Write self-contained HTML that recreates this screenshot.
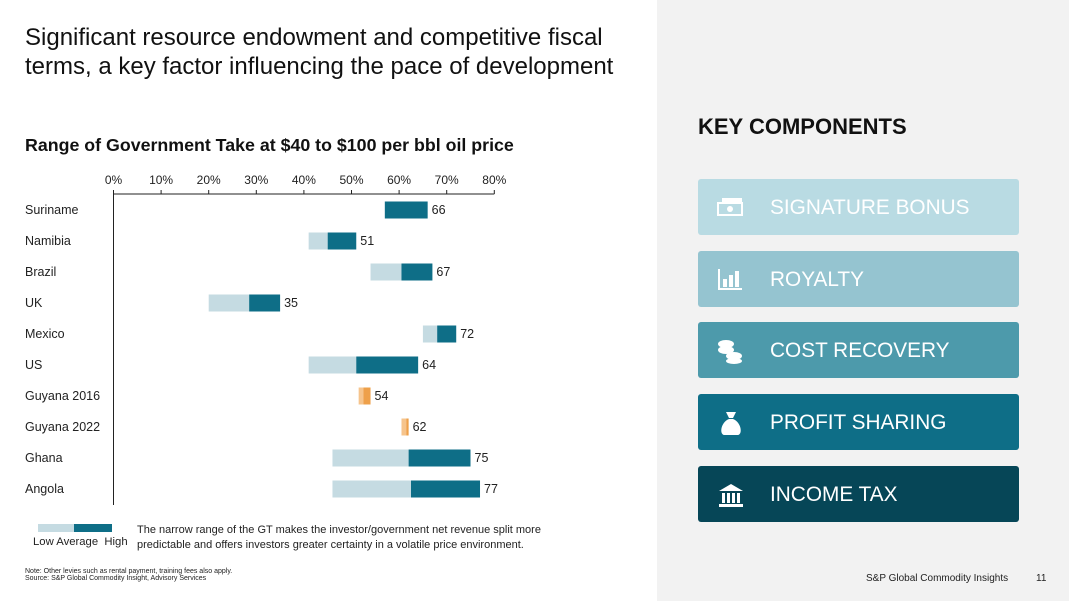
<!DOCTYPE html>
<html><head><meta charset="utf-8"><style>
body{margin:0;width:1069px;height:601px;overflow:hidden;font-family:"Liberation Sans",Arial,sans-serif;background:#fff;position:relative}
.abs{position:absolute}
.btn{position:absolute;left:698px;width:321px;height:56px;border-radius:3px;color:#fff;font-size:20.8px}
.btn span{position:absolute;left:72px;top:17px}
.btn svg{position:absolute;left:18px;top:16px}
</style></head><body>
<div class="abs" style="left:657px;top:0;width:412px;height:601px;background:#f2f2f2"></div>
<div class="abs" style="left:25px;top:23px;font-size:24px;line-height:29px;color:#111">Significant resource endowment and competitive fiscal<br>terms, a key factor influencing the pace of development</div>
<div class="abs" style="left:25px;top:135px;font-size:17.8px;font-weight:bold;color:#111">Range of Government Take at $40 to $100 per bbl oil price</div>
<svg class="abs" id="chart" style="left:0;top:0" width="657" height="601"></svg>
<div class="abs" style="left:38px;top:524px;width:36px;height:8px;background:#c5dbe2"></div>
<div class="abs" style="left:74px;top:524px;width:38px;height:8px;background:#0e6e87"></div>
<div class="abs" style="left:33px;top:536px;font-size:11.3px;color:#222">Low Average&nbsp; High</div>
<div class="abs" style="left:137px;top:523px;font-size:11px;line-height:15px;color:#222">The narrow range of the GT makes the investor/government net revenue split more<br>predictable and offers investors greater certainty in a volatile price environment.</div>
<div class="abs" style="left:25px;top:568px;font-size:7px;line-height:7px;color:#222">Note: Other levies such as rental payment, training fees also apply.<br>Source: S&amp;P Global Commodity Insight, Advisory Services</div>
<div class="abs" style="left:698px;top:114px;font-size:22px;font-weight:bold;color:#111">KEY COMPONENTS</div>
<div class="btn" style="top:179px;background:#b9dbe3"><svg width="30" height="22"><rect x="2" y="8" width="24" height="12" fill="none" stroke="#fff" stroke-width="2"/><rect x="6" y="3" width="20" height="4" fill="#fff"/><circle cx="14" cy="14" r="3" fill="#fff"/></svg><span>SIGNATURE BONUS</span></div>
<div class="btn" style="top:251px;background:#95c4d0"><svg width="30" height="24"><path d="M3 2V22H26" fill="none" stroke="#fff" stroke-width="2"/><rect x="7" y="12" width="4" height="8" fill="#fff"/><rect x="13" y="8" width="4" height="12" fill="#fff"/><rect x="19" y="4" width="4" height="16" fill="#fff"/></svg><span>ROYALTY</span></div>
<div class="btn" style="top:322px;background:#4d9aab"><svg width="30" height="26"><ellipse cx="10" cy="6" rx="8" ry="4" fill="#fff"/><ellipse cx="10" cy="12" rx="8" ry="4" fill="#fff"/><ellipse cx="18" cy="18" rx="8" ry="4" fill="#fff"/><ellipse cx="18" cy="23" rx="8" ry="3" fill="#fff"/></svg><span>COST RECOVERY</span></div>
<div class="btn" style="top:394px;background:#0e6e87"><svg width="30" height="26"><path d="M10 2H20L17 8H13Z" fill="#fff"/><path d="M13 9H17C25 12 27 24 22 25H8C3 24 5 12 13 9Z" fill="#fff"/></svg><span>PROFIT SHARING</span></div>
<div class="btn" style="top:466px;background:#064657"><svg width="30" height="26"><path d="M3 9L15 2L27 9Z" fill="#fff"/><rect x="6" y="11" width="3" height="10" fill="#fff"/><rect x="11" y="11" width="3" height="10" fill="#fff"/><rect x="16" y="11" width="3" height="10" fill="#fff"/><rect x="21" y="11" width="3" height="10" fill="#fff"/><rect x="3" y="22" width="24" height="3" fill="#fff"/></svg><span>INCOME TAX</span></div>
<div class="abs" style="left:866px;top:573px;font-size:10px;color:#222">S&amp;P Global Commodity Insights</div>
<div class="abs" style="left:1036px;top:573px;font-size:10px;color:#222">11</div>
<script>
const categories=["Suriname","Namibia","Brazil","UK","Mexico","US","Guyana 2016","Guyana 2022","Ghana","Angola"];
const lowVals=[57,41,54,20,65,41,51.5,60.5,46,46];
const avgVals=[57,45,60.5,28.5,68,51,52.5,61.5,62,62.5];
const highVals=[66,51,67,35,72,64,54,62,75,77];
const highlight=[false,false,false,false,false,false,true,true,false,false];
const ticks=[0,10,20,30,40,50,60,70,80];
const svg=document.getElementById('chart');
const NS='http://www.w3.org/2000/svg';
const x=v=>113.5+v*4.76;
const y=i=>210+i*31;
function mk(t,a){const e=document.createElementNS(NS,t);for(const k in a)e.setAttribute(k,a[k]);svg.appendChild(e);return e;}
let ax=mk('line',{x1:x(0),y1:194,x2:x(80),y2:194,stroke:'#222','stroke-width':1});


let ay=mk('line',{x1:x(0),y1:194,x2:x(0),y2:505,stroke:'#222','stroke-width':1});


ticks.forEach(t=>{
  let tk=mk('line',{x1:x(t),y1:190,x2:x(t),y2:194,stroke:'#222'});
  
  
  let tl=mk('text',{x:x(t),y:184,'text-anchor':'middle','font-size':12,fill:'#222'});
  tl.textContent=t+'%';
  
  
});
categories.forEach((c,i)=>{
  let cy=y(i);
  let lb=mk('text',{x:25,y:cy+4,'font-size':12.5,fill:'#222'});
  lb.textContent=c;
  
  
  let lc=highlight[i]?'#f6c48c':'#c5dbe2', hc=highlight[i]?'#eea04a':'#0e6e87';
  let r1=mk('rect',{x:x(lowVals[i]),y:cy-8.5,width:Math.max(0,x(avgVals[i])-x(lowVals[i])),height:17,fill:lc});
  
  
  let r2=mk('rect',{x:x(avgVals[i]),y:cy-8.5,width:x(highVals[i])-x(avgVals[i]),height:17,fill:hc});
  
  
  let vl=mk('text',{x:x(highVals[i])+4,y:cy+4,'font-size':12.5,fill:'#222'});
  vl.textContent=highVals[i];
  
  
});
</script>
</body></html>
